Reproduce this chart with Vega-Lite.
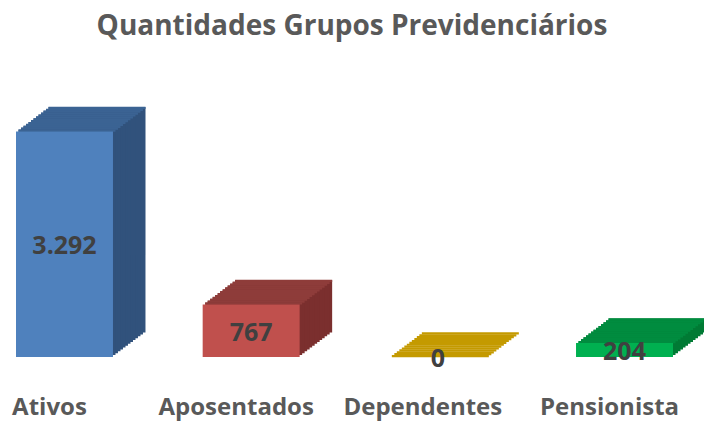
{
  "$schema": "https://vega.github.io/schema/vega-lite/v6.json",
  "width": 704,
  "height": 421,
  "autosize": "none",
  "padding": 0,
  "background": "white",
  "config": {
    "view": {"stroke": null},
    "locale": {"number": {"decimal": ",", "thousands": ".", "grouping": [3], "currency": ["R$ ", ""]}}
  },
  "title": {
    "text": "Quantidades Grupos Previdenciários",
    "font": "Open Sans",
    "fontSize": 28,
    "fontWeight": "bold",
    "color": "#595959",
    "anchor": "middle",
    "baseline": "middle",
    "offset": -28,
    "dy": 27
  },
  "data": {
    "values": [
      {"grupo": "Ativos", "quantidade": 3292},
      {"grupo": "Aposentados", "quantidade": 767},
      {"grupo": "Dependentes", "quantidade": 0},
      {"grupo": "Pensionista", "quantidade": 204}
    ]
  },
  "encoding": {
    "x": {
      "field": "grupo",
      "type": "nominal",
      "sort": null,
      "axis": null,
      "scale": {"range": [16, 673], "paddingInner": 0.4805, "paddingOuter": 0}
    },
    "y": {
      "field": "quantidade",
      "type": "quantitative",
      "axis": null,
      "scale": {"domain": [0, 3292], "range": [357, 131.5], "nice": false, "zero": true}
    }
  },
  "resolve": {"scale": {"color": "independent", "y": "independent"}},
  "layer": [
    {
      "encoding": {
        "color": {
          "field": "grupo",
          "type": "nominal",
          "legend": null,
          "scale": {"domain": ["Ativos", "Aposentados", "Dependentes", "Pensionista"], "range": ["#31527C", "#7B2F2E", "#9B7800", "#007A34"]}
        }
      },
      "layer": [
        {"mark": {"type": "bar", "xOffset": 32.5, "yOffset": -24.505}},
        {"mark": {"type": "bar", "xOffset": 30, "yOffset": -22.62}},
        {"mark": {"type": "bar", "xOffset": 27.5, "yOffset": -20.735}},
        {"mark": {"type": "bar", "xOffset": 25, "yOffset": -18.85}},
        {"mark": {"type": "bar", "xOffset": 22.5, "yOffset": -16.965}},
        {"mark": {"type": "bar", "xOffset": 20, "yOffset": -15.08}},
        {"mark": {"type": "bar", "xOffset": 17.5, "yOffset": -13.195}},
        {"mark": {"type": "bar", "xOffset": 15, "yOffset": -11.31}},
        {"mark": {"type": "bar", "xOffset": 12.5, "yOffset": -9.425}},
        {"mark": {"type": "bar", "xOffset": 10, "yOffset": -7.54}},
        {"mark": {"type": "bar", "xOffset": 7.5, "yOffset": -5.655}},
        {"mark": {"type": "bar", "xOffset": 5, "yOffset": -3.77}},
        {"mark": {"type": "bar", "xOffset": 2.5, "yOffset": -1.885}}
      ]
    },
    {
      "encoding": {
        "color": {
          "field": "grupo",
          "type": "nominal",
          "legend": null,
          "scale": {"domain": ["Ativos", "Aposentados", "Dependentes", "Pensionista"], "range": ["#3B6393", "#8E3C3A", "#C49A00", "#008C3F"]}
        }
      },
      "layer": [
        {"mark": {"type": "tick", "orient": "horizontal", "size": 97, "thickness": 2.2, "opacity": 1, "xOffset": 32.5, "yOffset": -23.5625}},
        {"mark": {"type": "tick", "orient": "horizontal", "size": 97, "thickness": 2.2, "opacity": 1, "xOffset": 30, "yOffset": -21.6775}},
        {"mark": {"type": "tick", "orient": "horizontal", "size": 97, "thickness": 2.2, "opacity": 1, "xOffset": 27.5, "yOffset": -19.7925}},
        {"mark": {"type": "tick", "orient": "horizontal", "size": 97, "thickness": 2.2, "opacity": 1, "xOffset": 25, "yOffset": -17.9075}},
        {"mark": {"type": "tick", "orient": "horizontal", "size": 97, "thickness": 2.2, "opacity": 1, "xOffset": 22.5, "yOffset": -16.0225}},
        {"mark": {"type": "tick", "orient": "horizontal", "size": 97, "thickness": 2.2, "opacity": 1, "xOffset": 20, "yOffset": -14.1375}},
        {"mark": {"type": "tick", "orient": "horizontal", "size": 97, "thickness": 2.2, "opacity": 1, "xOffset": 17.5, "yOffset": -12.2525}},
        {"mark": {"type": "tick", "orient": "horizontal", "size": 97, "thickness": 2.2, "opacity": 1, "xOffset": 15, "yOffset": -10.3675}},
        {"mark": {"type": "tick", "orient": "horizontal", "size": 97, "thickness": 2.2, "opacity": 1, "xOffset": 12.5, "yOffset": -8.4825}},
        {"mark": {"type": "tick", "orient": "horizontal", "size": 97, "thickness": 2.2, "opacity": 1, "xOffset": 10, "yOffset": -6.5975}},
        {"mark": {"type": "tick", "orient": "horizontal", "size": 97, "thickness": 2.2, "opacity": 1, "xOffset": 7.5, "yOffset": -4.7125}},
        {"mark": {"type": "tick", "orient": "horizontal", "size": 97, "thickness": 2.2, "opacity": 1, "xOffset": 5, "yOffset": -2.8275}},
        {"mark": {"type": "tick", "orient": "horizontal", "size": 97, "thickness": 2.2, "opacity": 1, "xOffset": 2.5, "yOffset": -0.9425}}
      ]
    },
    {
      "mark": {"type": "bar"},
      "encoding": {
        "color": {
          "field": "grupo",
          "type": "nominal",
          "legend": null,
          "scale": {"domain": ["Ativos", "Aposentados", "Dependentes", "Pensionista"], "range": ["#4F81BD", "#C0504D", "#C49A00", "#00B050"]}
        }
      }
    },
    {
      "mark": {"type": "text", "font": "Open Sans", "fontSize": 25, "fontWeight": "bold", "color": "#404040", "baseline": "middle", "align": "center", "yOffset": 2},
      "encoding": {
        "y": {
          "field": "quantidade",
          "type": "quantitative",
          "axis": null,
          "scale": {"domain": [0, 6584], "range": [357, 131.5], "nice": false, "zero": true}
        },
        "text": {"field": "quantidade", "type": "quantitative", "format": ","}
      }
    },
    {
      "mark": {"type": "text", "font": "Open Sans", "fontSize": 24, "fontWeight": "bold", "color": "#595959", "baseline": "middle", "align": "center", "xOffset": -15, "yOffset": 51},
      "encoding": {
        "y": {"datum": 0, "type": "quantitative"},
        "text": {"field": "grupo", "type": "nominal"}
      }
    }
  ]
}
